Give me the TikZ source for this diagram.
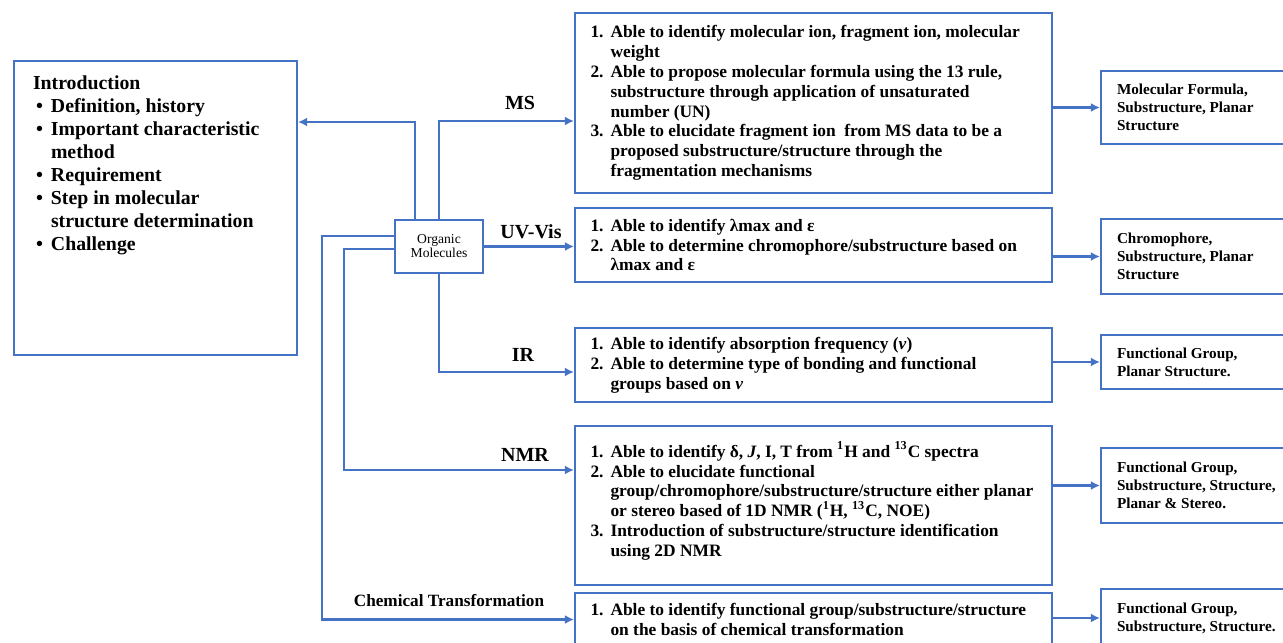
\documentclass[tikz,border=0pt]{standalone}
\usepackage{fontspec}
\setmainfont{Liberation Serif}
\usetikzlibrary{arrows.meta, positioning}
\definecolor{lineblue}{RGB}{68,114,196}
\newcommand\midx{813.5}
\newcommand\rgtx{1201}
\newcommand\num[1]{\makebox[10pt][l]{#1.}}
\newcommand\cont{\hspace*{10pt}}
\newcommand\bul{\hspace*{1.5pt}\makebox[7.5pt][l]{\textbullet}}
\newcommand\ind{\hspace*{9pt}}

\begin{document}
\begin{tikzpicture}[x=0.5pt, y=-0.5pt,
    box/.style={rectangle, draw=lineblue, line width=1.1pt, inner sep=0pt},
    goalbox/.style={box, minimum width=238.5pt, text width=223pt, align=flush left,
        font=\bfseries\fontsize{8.7}{9.9}\selectfont},
    resultbox/.style={box, minimum width=100pt, text width=84pt, align=flush left,
        font=\bfseries\fontsize{7.6}{9}\selectfont},
    method/.style={font=\bfseries\fontsize{10}{12}\selectfont},
    arr/.style={draw=lineblue, line width=1.1pt, -{Latex[length=4.5pt, width=4.5pt]}}]

    \useasboundingbox (0, 0) rectangle (1283, 642);
    \clip (0, 0) rectangle (1283, 642);

    % Introduction
    \node at (155.5, 208) [box, minimum width=141.5pt, minimum height=147pt] (intro)
        {\parbox[c][132pt][t]{122.5pt}{\bfseries\fontsize{9.9}{11.5}\selectfont
        Introduction\\
        \bul Definition, history\\
        \bul Important characteristic\\
        \ind method\\
        \bul Requirement\\
        \bul Step in molecular\\
        \ind structure determination\\
        \bul Challenge}};

    % Organic molecules
    \node at (439, 246.5) [box, minimum width=44pt, minimum height=26.5pt, align=center,
        font=\fontsize{6.8}{7}\selectfont] (om) {Organic\\Molecules};

    % Goals
    \node at (\midx, 103) [goalbox, minimum height=90pt] (ms)
        {\num{1}Able to identify molecular ion, fragment ion, molecular\\
        \cont weight\\
        \num{2}Able to propose molecular formula using the 13 rule,\\
        \cont substructure through application of unsaturated\\
        \cont number (UN)\\
        \num{3}Able to elucidate fragment ion\ \ from MS data to be a\\
        \cont proposed substructure/structure through the\\
        \cont fragmentation mechanisms};
    \node at (\midx, 245) [goalbox, minimum height=37pt] (uv)
        {\num{1}Able to identify λmax and ε\\
        \num{2}Able to determine chromophore/substructure based on\\
        \cont λmax and ε};
    \node at (\midx, 365) [goalbox, minimum height=37pt] (ir)
        {\num{1}Able to identify absorption frequency (\textit{ν})\\
        \num{2}Able to determine type of bonding and functional\\
        \cont groups based on \textit{ν}};
    \node at (\midx, 505.5) [goalbox, minimum height=79.5pt] (nmr)
        {\num{1}Able to identify δ, \textit{J}, I, T from \textsuperscript{1}H and \textsuperscript{13}C spectra\\
        \num{2}Able to elucidate functional\\
        \cont group/chromophore/substructure/structure either planar\\
        \cont or stereo based of 1D NMR (\textsuperscript{1}H, \textsuperscript{13}C, NOE)\\
        \num{3}Introduction of substructure/structure identification\\
        \cont using 2D NMR\\[-3.4pt]\mbox{}};
    \node at (\midx, 619.5) [goalbox, minimum height=26.5pt] (chem)
        {\num{1}Able to identify functional group/substructure/structure\\
        \cont on the basis of chemical transformation};

    % Results
    \node at (\rgtx, 107.5) [resultbox, minimum height=36.5pt] (msr)
        {Molecular Formula,\\Substructure, Planar\\Structure};
    \node at (\rgtx, 256.5) [resultbox, minimum height=37.5pt] (uvr)
        {Chromophore,\\Substructure, Planar\\Structure};
    \node at (\rgtx, 362) [resultbox, minimum height=27pt] (irr)
        {Functional Group,\\Planar Structure.};
    \node at (\rgtx, 485.5) [resultbox, minimum height=37.5pt] (nmrr)
        {Functional Group,\\Substructure, Structure,\\Planar \& Stereo.};
    \node at (\rgtx, 618) [resultbox, minimum height=29pt] (chemr)
        {Functional Group,\\Substructure, Structure.};

    % Method labels
    \node at (520, 103) [method] (lms) {MS};
    \node at (531, 232) [method] (luv) {UV-Vis};
    \node at (523, 355) [method] (lir) {IR};
    \node at (525, 455) [method] (lnmr) {NMR};
    \node at (449, 601) [font=\bfseries\fontsize{8.6}{10}\selectfont] (lchem) {Chemical Transformation};

    % Connectors
    \draw[arr] ([xshift=-12pt]om.north) |- ([yshift=43pt]intro.east);
    \draw[arr] (om.north) |- ([yshift=-9pt]ms.west);
    \draw[arr] (om.east) -- (om.east -| uv.west);
    \draw[arr] (om.south) |- ([yshift=-3.5pt]ir.west);
    \draw[arr] ([yshift=-1.25pt]om.west) -- ++(-50, 0) |- ([yshift=17.75pt]nmr.west);
    \draw[arr] ([yshift=5.25pt]om.west) -- ++(-72, 0) |- (chem.west);

    \draw[arr] (ms.east |- msr.west) -- (msr.west);
    \draw[arr] (uv.east |- uvr.west) -- (uvr.west);
    \draw[arr] (ir.east |- irr.west) -- (irr.west);
    \draw[arr] (nmr.east |- nmrr.west) -- (nmrr.west);
    \draw[arr] (chem.east |- chemr.west) -- (chemr.west);

\end{tikzpicture}
\end{document}
